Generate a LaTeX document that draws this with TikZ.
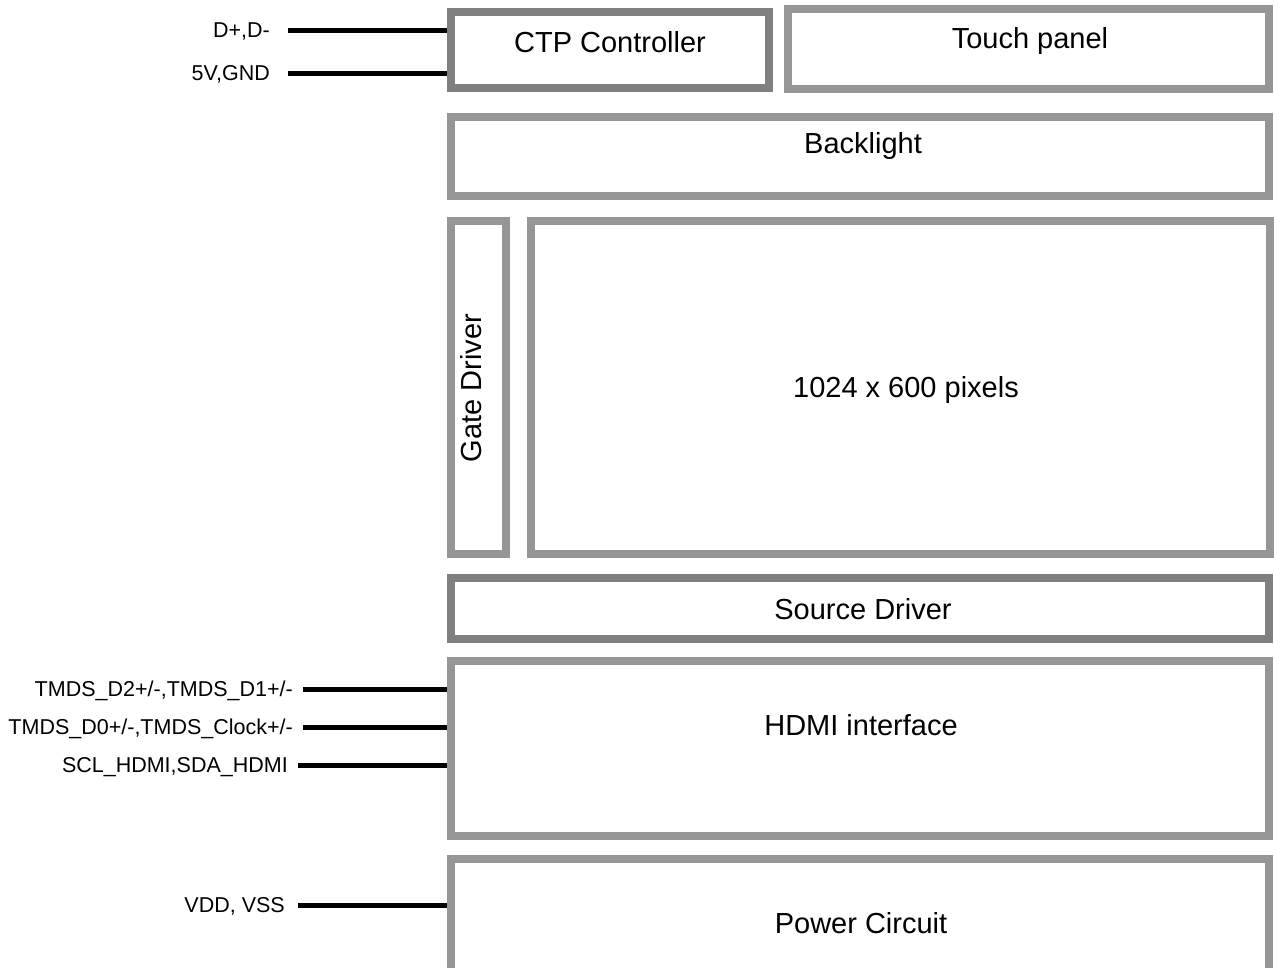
\documentclass[tikz,border=0pt]{standalone}
\usepackage{fontspec}
\setmainfont{Liberation Sans}
\usetikzlibrary{positioning}
\definecolor{frameA}{RGB}{150,150,150}
\definecolor{frameB}{RGB}{128,128,128}

\begin{document}
\begin{tikzpicture}[x=1pt, y=-1pt,
        blk/.style={draw=frameA, line width=8pt, rectangle, inner sep=0pt},
        blkdark/.style={blk, draw=frameB},
        blktext/.style={font=\fontsize{29}{34}\selectfont, inner sep=0pt, text height=20.8pt, text depth=0pt},
        sig/.style={font=\fontsize{21.5}{25}\selectfont, inner sep=0pt, text height=15.4pt, text depth=0pt},
        wire/.style={line width=5pt}]
        \clip (0,0) rectangle (1274,967);

        % Blocks
        \node[blkdark, minimum width=318pt, minimum height=76pt] (ctp) at (610,50) {};
        \node[blk, minimum width=481pt, minimum height=80pt] (touch) at (1028.5,49) {};
        \node[blk, minimum width=818pt, minimum height=79pt] (backlight) at (860,156.5) {};
        \node[blk, minimum width=55pt, minimum height=333pt] (gate) at (478.5,387.5) {};
        \node[blk, minimum width=739pt, minimum height=333pt] (panel) at (900.5,387.5) {};
        \node[blkdark, minimum width=818pt, minimum height=61pt] (source) at (860,608.5) {};
        \node[blk, minimum width=818pt, minimum height=175pt] (hdmi) at (860,748.5) {};
        \node[blk, minimum width=818pt, minimum height=116pt] (power) at (860,917) {};

        % Block labels
        \node[blktext] (ctptext) at (610,42.5) {CTP Controller};
        \node[blktext] (touchtext) at (1030,38) {Touch panel};
        \node[blktext] (backlighttext) at (863,143) {Backlight};
        \node[blktext, rotate=90] (gatetext) at (471,388) {Gate Driver};
        \node[blktext] (paneltext) at (906,387) {1024 x 600 pixels};
        \node[blktext] (sourcetext) at (863,609) {Source Driver};
        \node[blktext] (hdmitext) at (861,725) {HDMI interface};
        \node[blktext] (powertext) at (861,923.5) {Power Circuit};

        % Wire ends
        \coordinate (usb) at (288,30);
        \coordinate (pwr) at (288,73);
        \coordinate (tmdsa) at (303,689);
        \coordinate (tmdsb) at (303,727);
        \coordinate (ddc) at (298,765);
        \coordinate (vdd) at (298,905);

        % Wires
        \draw[wire] (usb) -- (usb -| ctp.west);
        \draw[wire] (pwr) -- (pwr -| ctp.west);
        \draw[wire] (tmdsa) -- (tmdsa -| hdmi.west);
        \draw[wire] (tmdsb) -- (tmdsb -| hdmi.west);
        \draw[wire] (ddc) -- (ddc -| hdmi.west);
        \draw[wire] (vdd) -- (vdd -| power.west);

        % Signal labels
        \node[sig, left=18pt of usb] (usblabel) {D+,D-};
        \node[sig, left=18pt of pwr] (pwrlabel) {5V,GND};
        \node[sig, left=10pt of tmdsa] (tmdsalabel) {TMDS\_D2+/-,TMDS\_D1+/-};
        \node[sig, left=10pt of tmdsb] (tmdsblabel) {TMDS\_D0+/-,TMDS\_Clock+/-};
        \node[sig, left=10pt of ddc] (ddclabel) {SCL\_HDMI,SDA\_HDMI};
        \node[sig, left=13pt of vdd] (vddlabel) {VDD, VSS};

\end{tikzpicture}
\end{document}
